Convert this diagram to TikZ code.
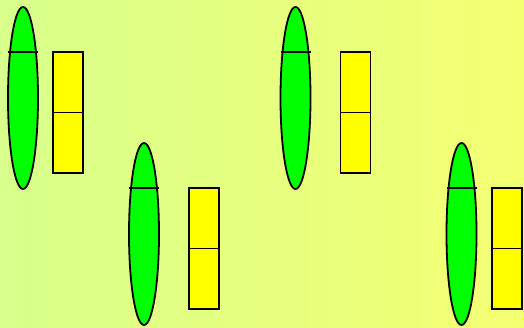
\documentclass[tikz,border=0pt]{standalone}
\usepackage{tikz}
\usetikzlibrary{shapes.geometric}
\usetikzlibrary{positioning}
\usetikzlibrary{calc}

\definecolor{bgleft}{RGB}{216,255,140}
\definecolor{bgright}{RGB}{244,255,114}
\definecolor{lensgreen}{RGB}{0,255,0}
\definecolor{boxyellow}{RGB}{255,255,0}

\begin{document}
\begin{tikzpicture}[
    x=1pt, y=-1pt,
    node distance=0pt,
    lens/.style={draw, ellipse, line width=1.8pt, fill=lensgreen, minimum width=30pt, minimum height=182pt, inner sep=0pt, outer sep=0pt},
    half/.style={draw, rectangle, line width=1.8pt, fill=boxyellow, minimum width=30pt, minimum height=60.5pt, inner sep=0pt, outer sep=0pt}
]
\shade[left color=bgleft, right color=bgright] (0,0) rectangle (524,327);
\useasboundingbox (0,0) rectangle (524,327);

% upper row
\node[lens] (lensA) at (23,98) {};
\node[half, anchor=north west] (boxAtop) at (53,52) {};
\node[half, below=of boxAtop] (boxAbot) {};
\node[lens] (lensC) at (295.5,98) {};
\node[half, anchor=north west] (boxCtop) at (340.5,52) {};
\node[half, below=of boxCtop] (boxCbot) {};

% lower row
\node[lens] (lensB) at (144,234) {};
\node[half, anchor=north west] (boxBtop) at (189,188) {};
\node[half, below=of boxBtop] (boxBbot) {};
\node[lens] (lensD) at (461.5,234) {};
\node[half, anchor=north west] (boxDtop) at (492,188) {};
\node[half, below=of boxDtop] (boxDbot) {};

% chords across the lenses
\foreach \l in {lensA,lensB,lensC,lensD}
  \draw[line width=1.8pt] ($(\l.north)+(-15,45)$) -- ($(\l.north)+(15,45)$);
\end{tikzpicture}
\end{document}
